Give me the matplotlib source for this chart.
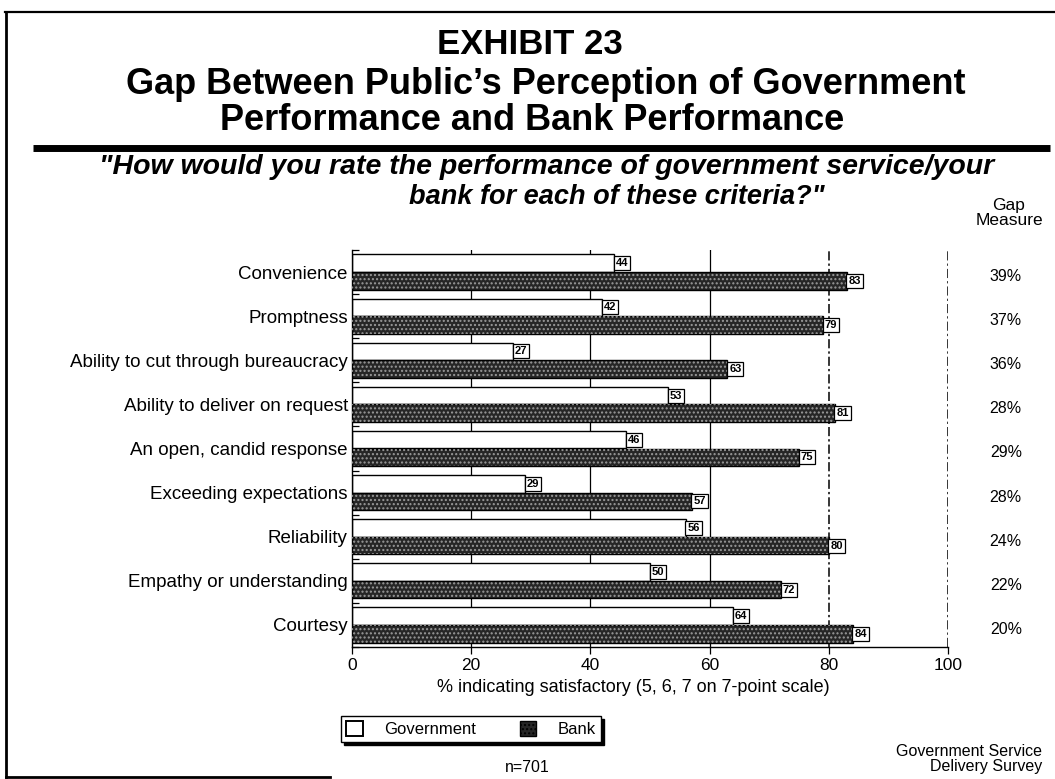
import numpy as np
import matplotlib
matplotlib.use("Agg")
import matplotlib.pyplot as plt
from matplotlib.patches import Patch
from matplotlib.lines import Line2D

plt.rcParams["font.family"] = ["Liberation Sans", "DejaVu Sans"]

# 調査結果（満足と回答した割合 %）
criteria = [
    "Convenience",
    "Promptness",
    "Ability to cut through bureaucracy",
    "Ability to deliver on request",
    "An open, candid response",
    "Exceeding expectations",
    "Reliability",
    "Empathy or understanding",
    "Courtesy",
]
government = [44, 42, 27, 53, 46, 29, 56, 50, 64]
bank = [83, 79, 63, 81, 75, 57, 80, 72, 84]
gap_measure = ["39%", "37%", "36%", "28%", "29%", "28%", "24%", "22%", "20%"]
x_ticks = [0, 20, 40, 60, 80, 100]

W, H = 1055, 779


def fx(px):
    return px / W


def fy(py):
    return 1 - py / H


fig = plt.figure(figsize=(W / 100, H / 100), dpi=100)

# 外枠と見出し下の太線
fig.add_artist(Line2D([fx(5), fx(1055)], [fy(12), fy(12)], color="black", lw=1.6))
fig.add_artist(Line2D([fx(6), fx(6)], [fy(12), fy(777)], color="black", lw=2.0))
fig.add_artist(Line2D([fx(6), fx(330)], [fy(777), fy(777)], color="black", lw=2.0))
fig.add_artist(Line2D([fx(33), fx(1050)], [fy(148), fy(148)], color="black", lw=5.0,
                      solid_capstyle="butt"))

# タイトル
fig.text(fx(530), fy(45), "EXHIBIT 23", ha="center", va="center",
         fontsize=25, fontweight="bold")
fig.text(fx(546), fy(84), "Gap Between Public\u2019s Perception of Government",
         ha="center", va="center", fontsize=26, fontweight="bold")
fig.text(fx(532), fy(120), "Performance and Bank Performance",
         ha="center", va="center", fontsize=26, fontweight="bold")

fig.text(fx(547), fy(167),
         "\"How would you rate the performance of government service/your",
         ha="center", va="center", fontsize=20.5, fontweight="bold", style="italic")
fig.text(fx(617), fy(197), "bank for each of these criteria?\"",
         ha="center", va="center", fontsize=19.5, fontweight="bold", style="italic")

# グラフ本体
ax = fig.add_axes([fx(352), fy(647), fx(948) - fx(352), (647 - 250) / H])
y = np.arange(len(criteria))
bar_h = 0.4

for v in [20, 40, 60]:
    ax.axvline(v, color="black", lw=0.9, zorder=0)
for v in [80, 100]:
    ax.axvline(v, color="black", lw=1.1, ls=(0, (6, 2, 1.5, 2)), zorder=0)

ax.barh(y - bar_h / 2, government, height=bar_h, color="white",
        edgecolor="black", lw=1.0, zorder=2)
ax.barh(y + bar_h / 2, bank, height=bar_h, color="#262626",
        edgecolor="black", lw=1.0, zorder=2)
# 網点模様
ax.barh(y + bar_h / 2, bank, height=bar_h, fill=False, hatch="....",
        edgecolor="#9a9a9a", lw=0, zorder=3)

box = dict(boxstyle="square,pad=0.18", fc="white", ec="black", lw=0.9)
for yy, v in zip(y - bar_h / 2, government):
    ax.annotate(str(v), xy=(v, yy), xytext=(1.2, 0), textcoords="offset points",
                ha="left", va="center", fontsize=8, fontweight="bold", bbox=box,
                zorder=5)
for yy, v in zip(y + bar_h / 2, bank):
    ax.annotate(str(v), xy=(v, yy), xytext=(1.2, 0), textcoords="offset points",
                ha="left", va="center", fontsize=8, fontweight="bold", bbox=box,
                zorder=5)

ax.set_xlim(0, 100)
ax.set_ylim(len(criteria) - 0.5, -0.5)
ax.set_xticks(x_ticks)
ax.set_xticklabels([str(t) for t in x_ticks], fontsize=12.5)
ax.set_yticks(y)
ax.set_yticklabels(criteria, fontsize=13.5)
ax.set_yticks(np.arange(len(criteria) + 1) - 0.5, minor=True)
ax.tick_params(axis="y", which="major", length=0, pad=3)
ax.tick_params(axis="y", which="minor", direction="in", length=5, width=0.9)
ax.tick_params(axis="x", direction="out", length=5, width=0.9, pad=3)
for side in ["top", "right"]:
    ax.spines[side].set_visible(False)
ax.spines["left"].set_linewidth(1.0)
ax.spines["bottom"].set_linewidth(1.0)

fig.text(fx(633), fy(688), "% indicating satisfactory (5, 6, 7 on 7-point scale)",
         ha="center", va="center", fontsize=13)

# ギャップ指標
fig.text(fx(1009), fy(213), "Gap\nMeasure", ha="center", va="center",
         fontsize=12.5, linespacing=1.0)
for yy, g in zip(y, gap_measure):
    ax.text(1.097, yy + 0.1, g, transform=ax.get_yaxis_transform(),
            ha="center", va="center", fontsize=11.5)

# 凡例
handles = [
    Patch(facecolor="white", edgecolor="black", lw=1.4, label="Government"),
    Patch(facecolor="#262626", edgecolor="black", hatch="....", label="Bank"),
]
leg = fig.legend(handles=handles, loc="center", ncol=2,
                 bbox_to_anchor=(fx(471), fy(729)), frameon=True, fancybox=False,
                 shadow={"color": "black", "alpha": 1.0}, fontsize=12,
                 handlelength=1.0, handleheight=1.0, columnspacing=2.6,
                 handletextpad=1.3, borderpad=0.3, borderaxespad=0)
leg.get_frame().set_edgecolor("black")
leg.get_frame().set_linewidth(1.0)

fig.text(fx(527), fy(768), "n=701", ha="center", va="center", fontsize=11.5)
fig.text(fx(1042), fy(759), "Government Service\nDelivery Survey", ha="right",
         va="center", fontsize=11.5, linespacing=1.05)

fig.savefig("out.png", dpi=100)
